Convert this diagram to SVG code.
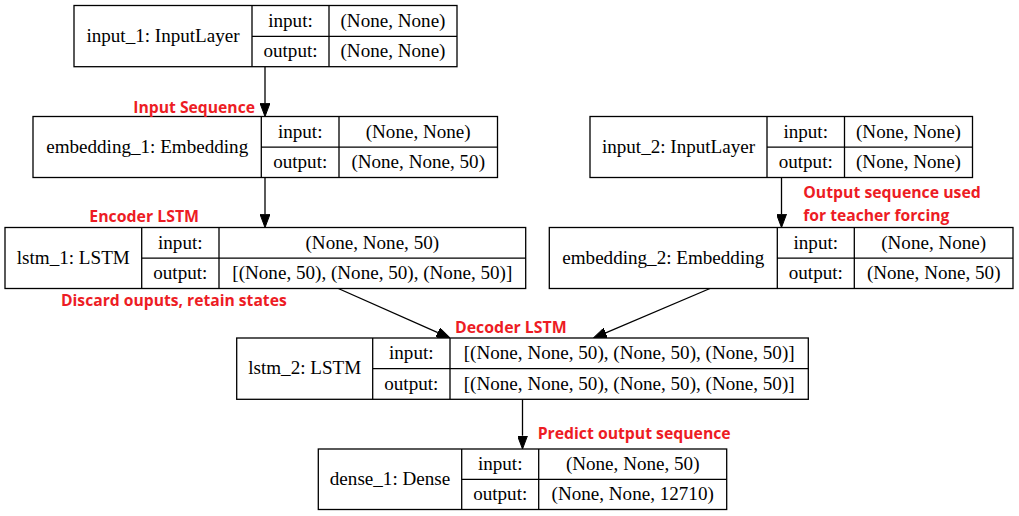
<svg xmlns="http://www.w3.org/2000/svg" width="1019" height="516" viewBox="0 0 1019 516">
<style>
.box{fill:#fff;stroke:#000;stroke-width:1.3}
.ln{stroke:#000;stroke-width:1.3;fill:none}
.t{font-family:"Liberation Serif","Times New Roman",serif;font-size:19.1px;fill:#000;text-anchor:middle}
.r{font-family:"Open Sans","Noto Sans",sans-serif;font-size:16px;font-weight:700;fill:#ed1c24}
.e{stroke:#000;stroke-width:1.3;fill:none;marker-end:url(#ah)}
</style>
<defs>
<marker id="ah" viewBox="0 0 13.3 10" refX="0" refY="5" markerWidth="13.3" markerHeight="10" markerUnits="userSpaceOnUse" orient="auto">
<path d="M0,0 L13.3,5 L0,10 z" fill="#000" stroke="#000" stroke-width="1"/>
</marker>
</defs>
<rect width="1019" height="516" fill="#fff"/>

<g id="edges">
<path class="e" d="M265,66.7 L265,103.2"/>
<path class="e" d="M265,177.5 L265,214.2"/>
<path class="e" d="M781.5,177.5 L781.5,214.2"/>
<path class="e" d="M338.3,288.5 L437.8,332.6"/>
<path class="e" d="M710,288.5 L605.7,332.8"/>
<path class="e" d="M522.5,399.3 L522.5,435.7"/>
</g>

<g id="input_1">
<rect class="box" x="74" y="5.5" width="383" height="61.2"/>
<path class="ln" d="M252,5.5 V66.7 M329,5.5 V66.7 M252,36.3 H457"/>
<text class="t" x="163" y="41.7">input_1: InputLayer</text>
<text class="t" x="290.5" y="26.5">input:</text>
<text class="t" x="290.5" y="57.1">output:</text>
<text class="t" x="393" y="26.5">(None, None)</text>
<text class="t" x="393" y="57.1">(None, None)</text>
</g>

<g id="embedding_1">
<rect class="box" x="33" y="116.5" width="464.5" height="61"/>
<path class="ln" d="M261.3,116.5 V177.5 M339,116.5 V177.5 M261.3,147.2 H497.5"/>
<text class="t" x="147.2" y="152.7">embedding_1: Embedding</text>
<text class="t" x="300.2" y="137.5">input:</text>
<text class="t" x="300.2" y="168">output:</text>
<text class="t" x="418.2" y="137.5">(None, None)</text>
<text class="t" x="418.2" y="168">(None, None, 50)</text>
</g>

<g id="input_2">
<rect class="box" x="590" y="116.5" width="382.5" height="61"/>
<path class="ln" d="M767,116.5 V177.5 M844.5,116.5 V177.5 M767,147.2 H972.5"/>
<text class="t" x="678.5" y="152.7">input_2: InputLayer</text>
<text class="t" x="805.7" y="137.5">input:</text>
<text class="t" x="805.7" y="168">output:</text>
<text class="t" x="908.5" y="137.5">(None, None)</text>
<text class="t" x="908.5" y="168">(None, None)</text>
</g>

<g id="lstm_1">
<rect class="box" x="5" y="227.5" width="520.7" height="61"/>
<path class="ln" d="M141.7,227.5 V288.5 M219,227.5 V288.5 M141.7,258.1 H525.7"/>
<text class="t" x="73.3" y="263.7">lstm_1: LSTM</text>
<text class="t" x="180.3" y="248.5">input:</text>
<text class="t" x="180.3" y="279">output:</text>
<text class="t" x="372.3" y="248.5">(None, None, 50)</text>
<text class="t" x="372.3" y="279">[(None, 50), (None, 50), (None, 50)]</text>
</g>

<g id="embedding_2">
<rect class="box" x="549.3" y="227.5" width="463.7" height="61"/>
<path class="ln" d="M777.3,227.5 V288.5 M854.3,227.5 V288.5 M777.3,258.1 H1013"/>
<text class="t" x="663.3" y="263.7">embedding_2: Embedding</text>
<text class="t" x="815.8" y="248.5">input:</text>
<text class="t" x="815.8" y="279">output:</text>
<text class="t" x="933.7" y="248.5">(None, None)</text>
<text class="t" x="933.7" y="279">(None, None, 50)</text>
</g>

<g id="lstm_2">
<rect class="box" x="236.7" y="338" width="571.6" height="61.3"/>
<path class="ln" d="M372.7,338 V399.3 M450,338 V399.3 M372.7,368.6 H808.3"/>
<text class="t" x="304.7" y="374.3">lstm_2: LSTM</text>
<text class="t" x="411.3" y="359">input:</text>
<text class="t" x="411.3" y="389.6">output:</text>
<text class="t" x="629.2" y="359">[(None, None, 50), (None, 50), (None, 50)]</text>
<text class="t" x="629.2" y="389.6">[(None, None, 50), (None, 50), (None, 50)]</text>
</g>

<g id="dense_1">
<rect class="box" x="318.3" y="449" width="408.4" height="60.5"/>
<path class="ln" d="M461.7,449 V509.5 M538.7,449 V509.5 M461.7,479.3 H726.7"/>
<text class="t" x="390" y="484.9">dense_1: Dense</text>
<text class="t" x="500.2" y="469.8">input:</text>
<text class="t" x="500.2" y="500.1">output:</text>
<text class="t" x="632.7" y="469.8">(None, None, 50)</text>
<text class="t" x="632.7" y="500.1">(None, None, 12710)</text>
</g>

<g id="annotations">
<text class="r" x="133.3" y="113.3" textLength="121.7" lengthAdjust="spacingAndGlyphs">Input Sequence</text>
<text class="r" x="89.3" y="221.5" textLength="109.7" lengthAdjust="spacingAndGlyphs">Encoder LSTM</text>
<text class="r" x="61" y="306" textLength="225.7" lengthAdjust="spacingAndGlyphs">Discard ouputs, retain states</text>
<text class="r" x="803.3" y="197.5" textLength="177.4" lengthAdjust="spacingAndGlyphs">Output sequence used</text>
<text class="r" x="803.3" y="220.5" textLength="146" lengthAdjust="spacingAndGlyphs">for teacher forcing</text>
<text class="r" x="455" y="332.7" textLength="111.7" lengthAdjust="spacingAndGlyphs">Decoder LSTM</text>
<text class="r" x="537.7" y="439.3" textLength="193" lengthAdjust="spacingAndGlyphs">Predict output sequence</text>
</g>
</svg>
